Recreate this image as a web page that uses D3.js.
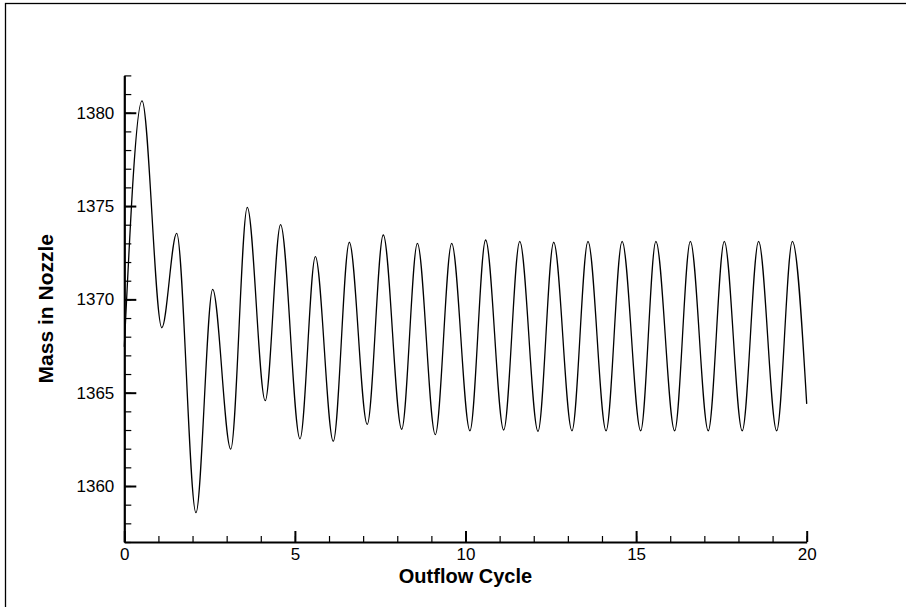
<!DOCTYPE html>
<html>
<head>
<meta charset="utf-8">
<script src="https://cdn.jsdelivr.net/npm/d3@7"></script>
<style>
  html, body { margin: 0; padding: 0; background: #fff; }
  svg { display: block; }
  text { font-family: Arial, "Liberation Sans", sans-serif; fill: #000; }
</style>
</head>
<body>
<svg id="chart" width="906" height="607"></svg>
<script>
// Data (extrema of the oscillation plus end points)
const cycle = [0, 0.52, 1.10, 1.535, 2.10, 2.59, 3.12, 3.605, 4.13, 4.58,
               5.15, 5.60, 6.125, 6.595, 7.12, 7.59, 8.13, 8.59, 9.115, 9.595,
               10.13, 10.59, 11.12, 11.59, 12.125, 12.585, 13.12, 13.59, 14.12, 14.59,
               15.135, 15.58, 16.13, 16.59, 17.115, 17.585, 18.11, 18.59, 19.12, 19.58,
               20.0];
const mass = [1367.46, 1380.64, 1368.48, 1373.54, 1358.57, 1370.54, 1361.98, 1374.93, 1364.57, 1374.0,
              1362.53, 1372.29, 1362.4, 1373.06, 1363.3, 1373.45, 1363.04, 1373.0, 1362.75, 1373.0,
              1362.96, 1373.18, 1363.0, 1373.11, 1362.93, 1373.06, 1362.96, 1373.11, 1362.96, 1373.11,
              1362.96, 1373.11, 1362.96, 1373.11, 1362.96, 1373.11, 1362.96, 1373.11, 1362.96, 1373.11,
              1364.4];
const xMajorTicks = [0, 5, 10, 15, 20];
const xMinorTicks = d3.range(0, 21, 1);
const yMajorTicks = [1360, 1365, 1370, 1375, 1380];
const yMinorTicks = d3.range(1357, 1383, 1);
const xTitle = "Outflow Cycle";
const yTitle = "Mass in Nozzle";

const svg = d3.select("#chart");

// outer frame (only top and left edges fall inside the picture)
svg.append("rect")
  .attr("x", 5.5).attr("y", 3.5)
  .attr("width", 1000).attr("height", 1000)
  .attr("fill", "none").attr("stroke", "#000").attr("stroke-width", 1.3);

const x = d3.scaleLinear().domain([0, 20]).range([124.3, 806.7]);
const y = d3.scaleLinear().domain([1357, 1382]).range([542, 75.4]);

// minor ticks
svg.append("g")
  .attr("transform", `translate(0,${y(1357)})`)
  .call(d3.axisBottom(x).tickValues(xMinorTicks).tickSize(-6).tickSizeOuter(0).tickFormat(""))
  .call(g => g.select(".domain").remove())
  .call(g => g.selectAll("line").attr("stroke-width", 1.2));
svg.append("g")
  .attr("transform", `translate(${x(0)},0)`)
  .call(d3.axisLeft(y).tickValues(yMinorTicks).tickSize(-7).tickSizeOuter(0).tickFormat(""))
  .call(g => g.select(".domain").remove())
  .call(g => g.selectAll("line").attr("stroke-width", 1.2));

// major axes
const xAxis = svg.append("g")
  .attr("transform", `translate(0,${y(1357)})`)
  .call(d3.axisBottom(x).tickValues(xMajorTicks).tickSize(-11).tickSizeOuter(0).tickPadding(6).tickFormat(d3.format("d")));
xAxis.select(".domain").attr("stroke-width", 2.2);
xAxis.selectAll("line").attr("stroke-width", 2);
xAxis.selectAll("text").attr("font-size", 17).attr("font-family", 'Arial, "Liberation Sans", sans-serif');

const yAxis = svg.append("g")
  .attr("transform", `translate(${x(0)},0)`)
  .call(d3.axisLeft(y).tickValues(yMajorTicks).tickSize(-12).tickSizeOuter(0).tickPadding(10).tickFormat(d3.format("d")));
yAxis.select(".domain").attr("stroke-width", 2.2);
yAxis.selectAll("line").attr("stroke-width", 2);
yAxis.selectAll("text").attr("font-size", 17).attr("font-family", 'Arial, "Liberation Sans", sans-serif');

// curve
const pts = cycle.map((c, i) => [c, mass[i]]);
svg.append("path")
  .datum(pts)
  .attr("fill", "none")
  .attr("stroke", "#000")
  .attr("stroke-width", 1.3)
  .attr("d", d3.line().x(d => x(d[0])).y(d => y(d[1])).curve(d3.curveMonotoneX));

// titles
svg.append("text")
  .attr("x", (x(0) + x(20)) / 2)
  .attr("y", 583)
  .attr("text-anchor", "middle")
  .attr("font-size", 20)
  .attr("font-weight", "bold")
  .text(xTitle);

svg.append("text")
  .attr("transform", `translate(53,${(y(1357) + y(1382)) / 2}) rotate(-90)`)
  .attr("text-anchor", "middle")
  .attr("font-size", 21)
  .attr("font-weight", "bold")
  .text(yTitle);
</script>
</body>
</html>
